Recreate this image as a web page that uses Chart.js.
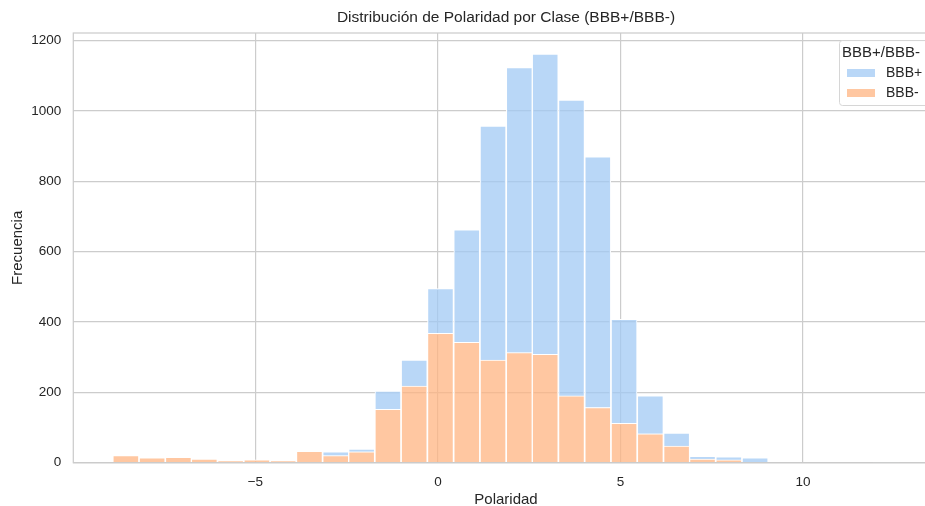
<!DOCTYPE html>
<html>
<head>
<meta charset="utf-8">
<script src="https://cdn.jsdelivr.net/npm/chart.js@4/dist/chart.umd.min.js"></script>
<style>
  html, body { margin: 0; padding: 0; background: #fff; overflow: hidden; }
  #wrap { width: 1012px; height: 506px; }
</style>
</head>
<body>
<div id="wrap"><canvas id="myChart"></canvas></div>
<script>
// histogram bins (centres) and counts per class
var binCenters = [-8.55, -7.83, -7.11, -6.40, -5.68, -4.96, -4.24, -3.52, -2.80, -2.09,
                  -1.37, -0.65, 0.07, 0.79, 1.51, 2.23, 2.94, 3.66, 4.38, 5.10,
                  5.82, 6.54, 7.25, 7.97, 8.69, 9.41, 10.13, 10.85, 11.57, 12.28];
var bbbMinus = [20, 14, 15, 10, 5, 8, 4, 32, 20, 31,
                152, 218, 368, 342, 292, 313, 308, 190, 157, 112,
                82, 47, 10, 8, 0, 0, 0, 0, 0, 0];
var bbbPlus = [0, 0, 0, 0, 0, 0, 0, 0, 11, 8,
               52, 74, 127, 320, 665, 811, 854, 841, 713, 296,
               108, 37, 8, 9, 14, 0, 0, 0, 0, 1];
var xTicks = [-5, 0, 5, 10];
var yTicks = [0, 200, 400, 600, 800, 1000, 1200];

var FONT = "'Liberation Sans', Arial, sans-serif";
var TXT = "#262626";
var GRID = "#cccccc";
var BLUE = "rgba(161,201,244,0.75)";
var ORANGE = "rgba(255,180,130,0.75)";

function pts(vals) {
  return vals.map(function (v, i) { return { x: binCenters[i], y: v }; });
}

// title, frame and legend drawn by hand
var extras = {
  id: "extras",
  afterDatasetsDraw: function (chart) {
    var c = chart.ctx, a = chart.chartArea;
    c.save();
    c.strokeStyle = GRID;
    c.lineWidth = 1.25;
    c.strokeRect(a.left, a.top, a.right - a.left, a.bottom - a.top);
    c.restore();
  },
  afterDraw: function (chart) {
    var c = chart.ctx, a = chart.chartArea;
    c.save();
    c.fillStyle = TXT;
    c.font = "15.5px " + FONT;
    c.textAlign = "center";
    c.textBaseline = "middle";
    c.fillText("Distribución de Polaridad por Clase (BBB+/BBB-)", (a.left + a.right) / 2, 17.5);

    // legend
    var lx = 839.5, ly = 40.5, lw = 120, lh = 65;
    c.fillStyle = "rgba(255,255,255,0.8)";
    c.strokeStyle = "#d6d6d6";
    c.lineWidth = 1;
    c.beginPath();
    c.roundRect(lx, ly, lw, lh, 3);
    c.fill();
    c.stroke();
    c.fillStyle = TXT;
    c.textAlign = "left";
    c.font = "15px " + FONT;
    c.fillText("BBB+/BBB-", 842, 53);
    c.font = "14px " + FONT;
    c.fillStyle = BLUE;
    c.fillRect(847, 69, 28, 8);
    c.fillStyle = ORANGE;
    c.fillRect(847, 89, 28, 8);
    c.fillStyle = TXT;
    c.fillText("BBB+", 886, 73.5);
    c.fillText("BBB-", 886, 93.5);
    c.restore();
  }
};

var ctx = document.getElementById("myChart");
var myChart = new Chart(ctx, {
  type: "bar",
  data: {
    datasets: [
      {
        label: "BBB-",
        data: pts(bbbMinus),
        backgroundColor: ORANGE,
        borderColor: "#ffffff",
        borderWidth: 1,
        barPercentage: 1,
        categoryPercentage: 1
      },
      {
        label: "BBB+",
        data: pts(bbbPlus),
        backgroundColor: BLUE,
        borderColor: "#ffffff",
        borderWidth: 1,
        barPercentage: 1,
        categoryPercentage: 1
      }
    ]
  },
  options: {
    responsive: true,
    maintainAspectRatio: false,
    animation: false,
    layout: { padding: { top: 33, right: 73.3, left: 0, bottom: 0 } },
    plugins: {
      legend: { display: false },
      title: { display: false },
      tooltip: { enabled: false }
    },
    scales: {
      x: {
        type: "linear",
        stacked: true,
        offset: false,
        min: -9.99,
        max: 13.72,
        afterBuildTicks: function (s) { s.ticks = xTicks.map(function (v) { return { value: v }; }); },
        afterFit: function (s) { s.height = 43.3; },
        grid: { color: GRID, lineWidth: 1.2, drawTicks: false, offset: false },
        border: { display: false },
        ticks: {
          color: TXT,
          font: { family: FONT, size: 13.5 },
          padding: 11,
          maxRotation: 0,
          callback: function (v) { return String(v).replace("-", "\u2212"); }
        },
        title: {
          display: true,
          text: "Polaridad",
          color: TXT,
          font: { family: FONT, size: 15 },
          padding: { top: 0, bottom: -3 }
        }
      },
      y: {
        stacked: true,
        min: 0,
        max: 1222,
        afterBuildTicks: function (s) { s.ticks = yTicks.map(function (v) { return { value: v }; }); },
        afterFit: function (s) { s.width = 73.3; },
        grid: { color: GRID, lineWidth: 1.2, drawTicks: false },
        border: { display: false },
        ticks: {
          color: TXT,
          font: { family: FONT, size: 13.5 },
          padding: 12,
          callback: function (v) { return String(v); }
        },
        title: {
          display: true,
          text: "Frecuencia",
          color: TXT,
          font: { family: FONT, size: 15 },
          padding: { top: 9, bottom: 0 }
        }
      }
    }
  },
  plugins: [extras]
});
</script>
</body>
</html>
